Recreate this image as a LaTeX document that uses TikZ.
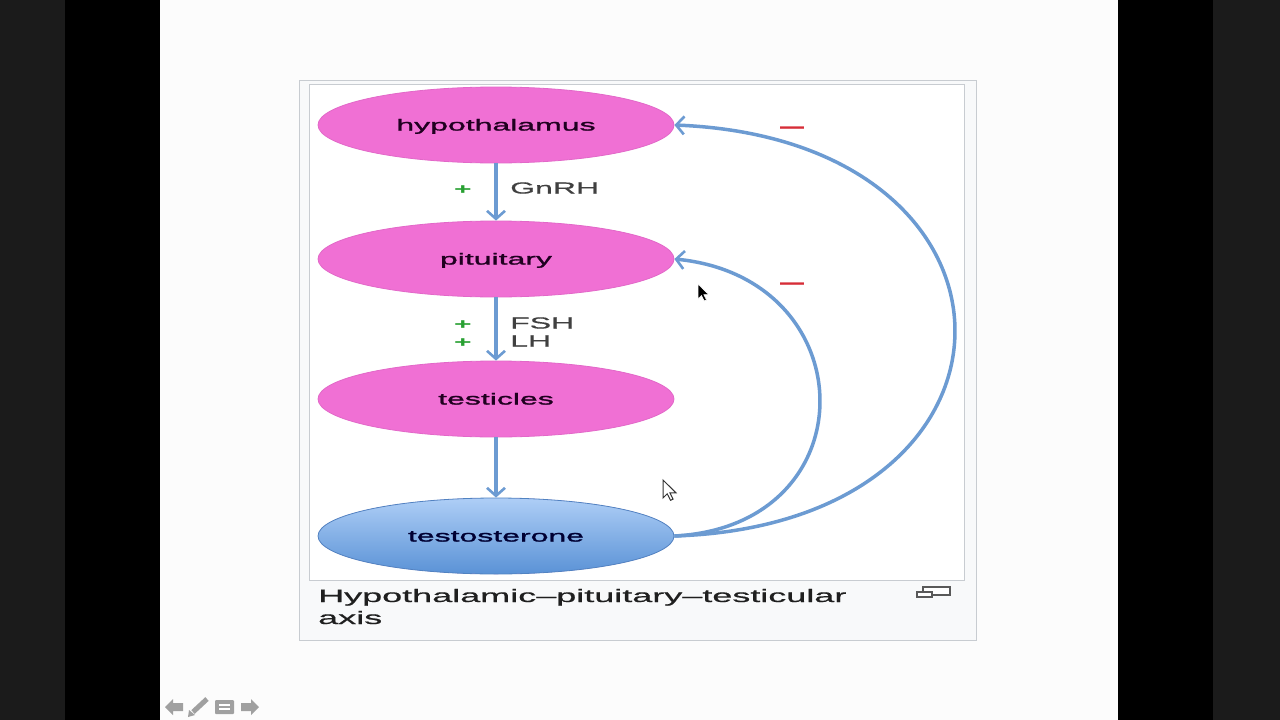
\documentclass[tikz,border=0pt]{standalone}
\usepackage{fontspec}
\setmainfont{Liberation Sans}
\newfontfamily\wide[FakeStretch=2]{Liberation Sans}
\newfontfamily\wideheavy[FakeStretch=2,FakeBold=1.6]{Liberation Sans}
\newfontfamily\widemed[FakeStretch=2,FakeBold=0.7]{Liberation Sans}
\usetikzlibrary{arrows.meta,shapes.geometric}
\definecolor{pinkfill}{RGB}{240,112,212}
\definecolor{pinkedge}{RGB}{226,104,200}
\definecolor{arrowblue}{RGB}{108,155,210}
\definecolor{bluetop}{RGB}{174,206,246}
\definecolor{bluebot}{RGB}{90,146,214}
\definecolor{plusgreen}{RGB}{40,160,50}
\definecolor{minusred}{RGB}{215,45,55}
\definecolor{darkside}{RGB}{27,27,27}
\definecolor{framegray}{RGB}{200,204,209}
\definecolor{thumbbg}{RGB}{248,249,250}
\definecolor{navgray}{RGB}{160,160,160}
\tikzset{
  organ/.style={ellipse, minimum width=356pt, minimum height=76pt, inner sep=0pt,
    text height=12.5pt, text depth=1.5pt,
    fill=pinkfill, draw=pinkedge, line width=0.8pt, text=black!75!violet,
    font=\wideheavy\fontsize{16}{16}\selectfont},
  hormone/.style={organ, draw=bluebot!90!black, top color=bluetop, bottom color=bluebot,
    text=black!80!blue},
  flow/.style={draw=arrowblue, line width=3.5pt,
    -{Straight Barb[length=8pt,width=18pt,line width=2.6pt]}},
  sig/.style={anchor=west, inner sep=0pt, text=black!75,
    font=\widemed\fontsize{16}{16}\selectfont},
  plus/.style={inner sep=0pt, text=plusgreen, font=\wide\bfseries\fontsize{15}{15}\selectfont},
  minus/.style={inner sep=0pt, text=minusred, font=\bfseries\fontsize{24}{24}\selectfont},
  caption/.style={anchor=base west, inner sep=0pt, text=black!88,
    font=\widemed\fontsize{18}{18}\selectfont},
}
\begin{document}
\begin{tikzpicture}[x=1pt,y=-1pt]
\useasboundingbox (0,0) rectangle (1280,720);
% screen background
\fill[darkside] (0,0) rectangle (65,720);
\fill[black] (65,0) rectangle (160,720);
\fill[white!99!black] (160,0) rectangle (1118,720);
\fill[black] (1118,0) rectangle (1213,720);
\fill[darkside] (1213,0) rectangle (1280,720);
% thumbnail frame
\draw[framegray, fill=thumbbg, line width=0.8pt] (299,80) rectangle (976,640);
\draw[framegray, fill=white, line width=0.8pt] (309,84) rectangle (964,580);
% organs
\node[organ] (hyp) at (496,125) {hypothalamus};
\node[organ] (pit) at (496,259) {pituitary};
\node[organ] (tes) at (496,399) {testicles};
\node[hormone] (tsn) at (496,536) {testosterone};
% forward arrows
\draw[flow] (hyp.south) -- (pit.north);
\draw[flow] (pit.south) -- (tes.north);
\draw[flow] (tes.south) -- (tsn.north);
% feedback arrows
\draw[flow] (tsn.east) .. controls (1048,524) and (1048,140) .. (hyp.east);
\draw[flow] (tsn.east) .. controls (870,526) and (866,278) .. (pit.east);
% labels
\node[plus] (p1) at (463,190) {+};
\node[sig] (gnrh) at (510,188) {GnRH};
\node[plus] (p2) at (463,325) {+};
\node[plus] (p3) at (463,343) {+};
\node[sig] (fsh) at (510,323) {FSH};
\node[sig] (lh) at (510,341) {LH};
\node[minus] (m1) at (792,131) {—};
\node[minus] (m2) at (792,287) {—};
% caption
\node[caption] (cap1) at (318,602) {Hypothalamic–pituitary–testicular};
\node[caption] (cap2) at (318,624) {axis};
% enlarge icon
\draw[black!65, line width=1.2pt, fill=white] (923,587) rectangle (950,595);
\draw[black!65, line width=1.2pt, fill=white] (917,592) rectangle (932,597);
% mouse pointers
\draw[white, fill=black, line width=0.6pt] (698,284) -- ++(0,15) -- ++(3.5,-3.5) -- ++(2.8,5.5) -- ++(2.2,-1) -- ++(-2.6,-5.3) -- ++(5,0) -- cycle;
\draw[black!80, fill=white, line width=1pt] (663,480) -- ++(0,18) -- ++(4.2,-4.2) -- ++(3.3,6.5) -- ++(2.6,-1.2) -- ++(-3.2,-6.3) -- ++(6,0) -- cycle;
% slide navigation icons
\fill[navgray] (165,707) -- (173,699) -- (173,703) -- (183,703) -- (183,711) -- (173,711) -- (173,715) -- cycle;
\draw[navgray, line width=5pt] (193,712) -- (207,699);
\fill[navgray] (188,717) -- (189,710) -- (195,715) -- cycle;
\fill[navgray, rounded corners=1pt] (215,700) rectangle (234,714);
\draw[white, line width=1.3pt] (219,705) -- (230,705) (219,709) -- (230,709);
\fill[navgray] (259,707) -- (251,699) -- (251,703) -- (241,703) -- (241,711) -- (251,711) -- (251,715) -- cycle;
\end{tikzpicture}
\end{document}
